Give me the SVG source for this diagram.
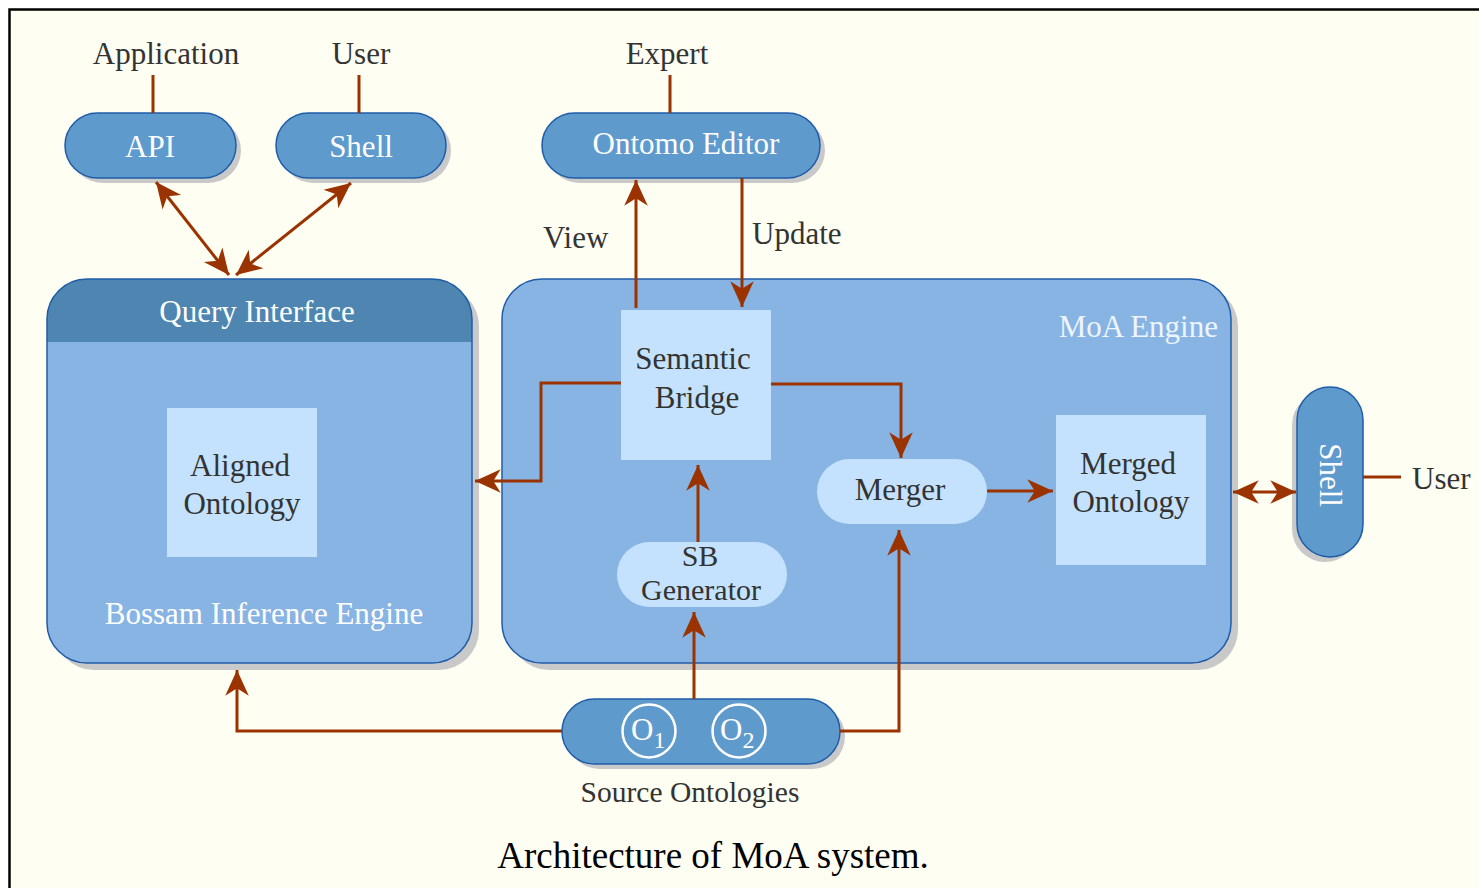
<svg xmlns="http://www.w3.org/2000/svg" width="1479" height="888" viewBox="0 0 1479 888" font-family="'Liberation Serif', 'DejaVu Serif', serif">
  <style>
    text { font-family: "Liberation Serif", "DejaVu Serif", serif; }
    .lbl { fill: #333333; font-size: 31px; }
    .wht { fill: #ffffff; font-size: 31px; }
    .dark { fill: #333333; font-size: 31px; }
    .pill { fill: #5f9acd; stroke: #1f5ca8; stroke-width: 1.5; }
    .shadow { fill: #c9c9c9; }
    .box { fill: #88b4e4; stroke: #1f5ca8; stroke-width: 1.5; }
    .light { fill: #c4e2fd; }
    .wire { fill: none; stroke: #9a3300; stroke-width: 3; }
    .arr { fill: none; stroke: #9a3300; stroke-width: 3; marker-end: url(#head); }
    .arr2 { fill: none; stroke: #9a3300; stroke-width: 3; marker-start: url(#headStart); marker-end: url(#head); }
  </style>
  <defs>
    <marker id="head" markerUnits="userSpaceOnUse" markerWidth="30" markerHeight="30" viewBox="-26 -13 28 26" refX="0" refY="0" orient="auto">
      <path d="M0,0 L-24,-11 L-17,0 L-24,11 Z" fill="#9a3300"/>
    </marker>
    <marker id="headStart" markerUnits="userSpaceOnUse" markerWidth="30" markerHeight="30" viewBox="-2 -13 28 26" refX="0" refY="0" orient="auto">
      <path d="M0,0 L24,-11 L17,0 L24,11 Z" fill="#9a3300"/>
    </marker>
  </defs>

  <!-- page -->
  <rect x="0" y="0" width="1479" height="888" fill="#ffffff"/>
  <rect x="9.5" y="9.5" width="1480" height="890" fill="#fefef2" stroke="#000000" stroke-width="2.5"/>

  <!-- external actors -->
  <g id="actors">
    <text class="lbl" x="166" y="64" text-anchor="middle">Application</text>
    <text class="lbl" x="361" y="64" text-anchor="middle">User</text>
    <text class="lbl" x="667" y="64" text-anchor="middle">Expert</text>
    <text class="lbl" x="1412" y="489">User</text>
  </g>

  <g id="api">
    <rect class="shadow" x="70" y="118" width="171" height="65" rx="32.5"/>
    <rect class="pill" x="65" y="113" width="171" height="65" rx="32.5"/>
    <text class="wht" x="150" y="157" text-anchor="middle">API</text>
  </g>

  <g id="shell-top">
    <rect class="shadow" x="281" y="118" width="170" height="65" rx="32.5"/>
    <rect class="pill" x="276" y="113" width="170" height="65" rx="32.5"/>
    <text class="wht" x="361" y="157" text-anchor="middle">Shell</text>
  </g>

  <g id="ontomo-editor">
    <rect class="shadow" x="547" y="118" width="278" height="65" rx="32.5"/>
    <rect class="pill" x="542" y="113" width="278" height="65" rx="32.5"/>
    <text class="wht" x="686" y="154" text-anchor="middle">Ontomo Editor</text>
  </g>

  <!-- Bossam inference engine with query interface header -->
  <g id="bossam">
    <rect class="shadow" x="54" y="286" width="425" height="384" rx="40"/>
    <rect x="47" y="279" width="425" height="384" rx="40" fill="#88b4e4"/>
    <path d="M47,342 V319 A40,40 0 0 1 87,279 H432 A40,40 0 0 1 472,319 V342 Z" fill="#4e86b1"/>
    <rect x="47" y="279" width="425" height="384" rx="40" fill="none" stroke="#1f5ca8" stroke-width="1.5"/>
    <text class="wht" x="257" y="322" text-anchor="middle">Query Interface</text>
    <text class="wht" x="264" y="624" text-anchor="middle">Bossam Inference Engine</text>
  </g>

  <g id="aligned-ontology">
    <rect class="light" x="167" y="408" width="150" height="149"/>
    <text class="dark" x="240" y="476" text-anchor="middle">Aligned</text>
    <text class="dark" x="242" y="514" text-anchor="middle">Ontology</text>
  </g>

  <!-- MoA engine container -->
  <g id="moa-engine">
    <rect class="shadow" x="509" y="286" width="729" height="384" rx="40"/>
    <rect class="box" x="502" y="279" width="729" height="384" rx="40"/>
    <text x="1218" y="337" text-anchor="end" fill="#eef4fc" font-size="31">MoA Engine</text>
  </g>

  <g id="semantic-bridge">
    <rect class="light" x="621" y="310" width="150" height="150"/>
    <text class="dark" x="693" y="369" text-anchor="middle">Semantic</text>
    <text class="dark" x="697" y="408" text-anchor="middle">Bridge</text>
  </g>

  <g id="sb-generator">
    <rect class="light" x="617" y="542" width="170" height="65" rx="32.5"/>
    <text class="dark" x="700" y="566" text-anchor="middle" style="font-size:30px">SB</text>
    <text class="dark" x="701" y="600" text-anchor="middle" style="font-size:30px">Generator</text>
  </g>

  <g id="merger">
    <rect class="light" x="817" y="459" width="170" height="65" rx="32.5"/>
    <text class="dark" x="900" y="500" text-anchor="middle">Merger</text>
  </g>

  <g id="merged-ontology">
    <rect class="light" x="1056" y="415" width="150" height="150"/>
    <text class="dark" x="1128" y="474" text-anchor="middle">Merged</text>
    <text class="dark" x="1131" y="512" text-anchor="middle">Ontology</text>
  </g>

  <g id="shell-right">
    <rect class="shadow" x="1292" y="392" width="66" height="170" rx="33"/>
    <rect class="pill" x="1297" y="387" width="66" height="170" rx="33"/>
    <text class="wht" transform="translate(1320,475) rotate(90)" text-anchor="middle">Shell</text>
  </g>

  <g id="source-ontologies">
    <rect class="shadow" x="567" y="704" width="278" height="65" rx="32.5"/>
    <rect class="pill" x="562" y="699" width="278" height="65" rx="32.5"/>
    <circle cx="649" cy="731" r="26.5" fill="none" stroke="#ffffff" stroke-width="2.5"/>
    <circle cx="739" cy="731" r="26.5" fill="none" stroke="#ffffff" stroke-width="2.5"/>
    <text class="wht" x="631" y="740">O<tspan font-size="24" dy="8">1</tspan></text>
    <text class="wht" x="720" y="740">O<tspan font-size="24" dy="8">2</tspan></text>
    <text class="lbl" x="690" y="802" text-anchor="middle" style="font-size:29.5px">Source Ontologies</text>
  </g>

  <!-- connectors -->
  <g id="connectors">
    <line class="wire" x1="153" y1="75" x2="153" y2="113"/>
    <line class="wire" x1="359" y1="75" x2="359" y2="113"/>
    <line class="wire" x1="670" y1="75" x2="670" y2="113"/>
    <line class="wire" x1="1363" y1="477" x2="1401" y2="477"/>
    <line class="arr2" x1="156" y1="182" x2="229" y2="275"/>
    <line class="arr2" x1="351" y1="183" x2="236" y2="275"/>
    <line class="arr" x1="636" y1="308" x2="636" y2="180"/>
    <line class="arr" x1="742" y1="178" x2="742" y2="307"/>
    <polyline class="arr" points="621,383 541,383 541,481 475,481"/>
    <polyline class="arr" points="771,384 901,384 901,458"/>
    <line class="arr" x1="698" y1="542" x2="698" y2="465"/>
    <line class="arr" x1="694" y1="699" x2="694" y2="612"/>
    <polyline class="arr" points="840,731 899,731 899,530"/>
    <polyline class="arr" points="562,731 237,731 237,670"/>
    <line class="arr" x1="987" y1="491" x2="1053" y2="491"/>
    <line class="arr2" x1="1233" y1="492" x2="1296" y2="492"/>
  </g>

  <text x="713" y="868" text-anchor="middle" fill="#000000" font-size="37">Architecture of MoA system.</text>
  <text class="lbl" x="543" y="248">View</text>
  <text class="lbl" x="752" y="244">Update</text>
</svg>
